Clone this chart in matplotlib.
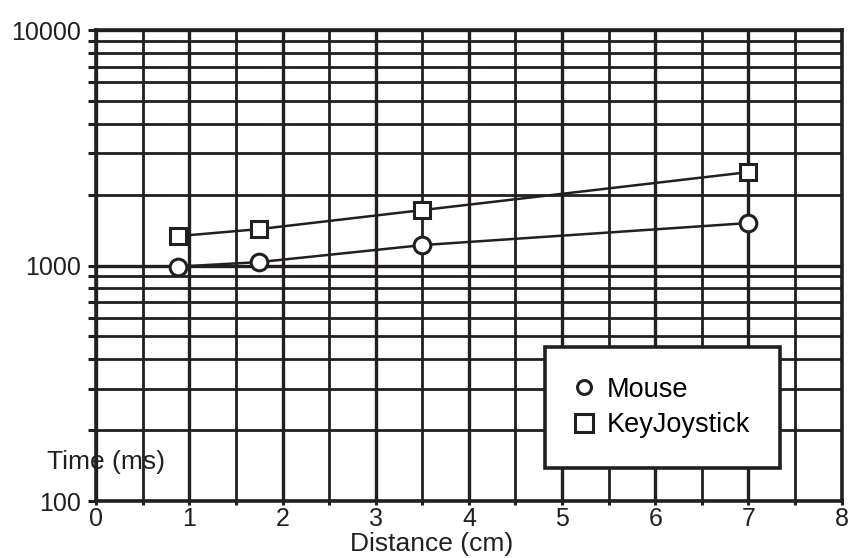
import matplotlib
matplotlib.use('Agg')
import matplotlib.pyplot as plt
from matplotlib.ticker import MultipleLocator, LogLocator, NullFormatter, FixedLocator

plt.rcParams['font.family'] = ['Liberation Sans', 'DejaVu Sans']

distance = [0.875, 1.75, 3.5, 7.0]
mouse_time = [990, 1035, 1222, 1516]
joystick_time = [1334, 1429, 1721, 2495]
x_ticks = [0, 1, 2, 3, 4, 5, 6, 7, 8]
y_ticks = [100, 1000, 10000]
y_tick_labels = ['100', '1000', '10000']

ink = '#231f20'

fig = plt.figure(figsize=(8.51, 5.58), dpi=100)
ax = fig.add_axes([0.113, 0.102, 0.876, 0.844])

ax.plot(distance, mouse_time, color=ink, lw=1.8, marker='o', ms=12,
        mfc='white', mec=ink, mew=2.2, label='Mouse', zorder=5)
ax.plot(distance, joystick_time, color=ink, lw=1.8, marker='s', ms=12,
        mfc='white', mec=ink, mew=2.2, label='KeyJoystick', zorder=5)

ax.set_yscale('log')
ax.set_xlim(0, 8)
ax.set_ylim(100, 10000)

ax.xaxis.set_major_locator(FixedLocator(x_ticks))
ax.xaxis.set_minor_locator(MultipleLocator(0.5))
ax.yaxis.set_major_locator(FixedLocator(y_ticks))
ax.set_yticklabels(y_tick_labels)
ax.yaxis.set_minor_locator(LogLocator(base=10, subs=range(2, 10)))
ax.yaxis.set_minor_formatter(NullFormatter())

ax.grid(which='major', color=ink, lw=2.4)
ax.grid(which='minor', color=ink, lw=2.0)
ax.set_axisbelow(True)

for s in ax.spines.values():
    s.set_color(ink)
    s.set_linewidth(2.6)

ax.tick_params(axis='y', which='both', direction='out', length=6, width=2.2,
               color=ink, labelsize=18, labelcolor=ink, pad=5)
ax.tick_params(axis='x', which='both', direction='out', length=3, width=2.2,
               color=ink, labelsize=18, labelcolor=ink, pad=1)

ax.set_xlabel('Distance (cm)', fontsize=19, color=ink)
ax.xaxis.set_label_coords(0.45, -0.066)
ax.set_ylabel('Time (ms)', fontsize=19, color=ink, rotation=0,
              ha='left', va='center')
ax.yaxis.set_label_coords(-0.066, 0.083)

leg = ax.legend(loc='upper left', bbox_to_anchor=(0.602, 0.327), fontsize=19.5,
                frameon=True, fancybox=False, framealpha=1, edgecolor=ink,
                handlelength=0.7, handletextpad=0.5, borderpad=1.1,
                labelspacing=0.35, borderaxespad=0)
leg.get_frame().set_linewidth(2.6)
leg.set_zorder(10)
for line, size in zip(leg.get_lines(), [10, 13]):
    line.set_linestyle('None')
    line.set_markersize(size)

fig.savefig('out.png', dpi=100)
